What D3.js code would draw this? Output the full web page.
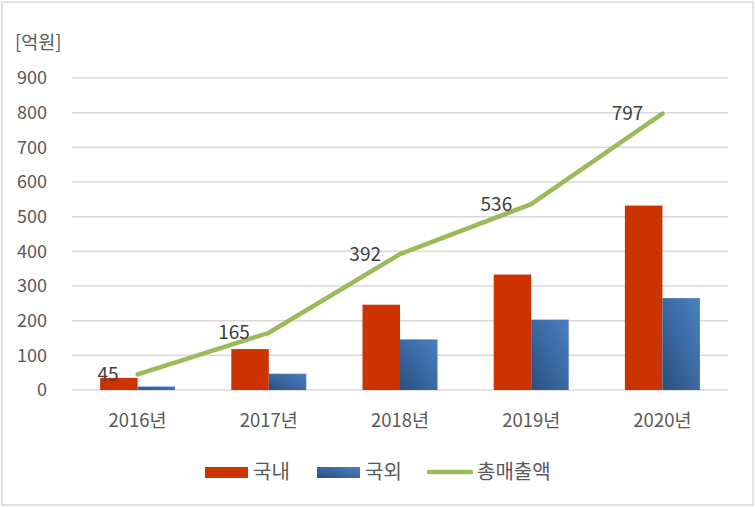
<!DOCTYPE html>
<html><head><meta charset="utf-8">
<script src="https://cdn.jsdelivr.net/npm/d3@7"></script>
<style>body{margin:0;background:#fff}svg{display:block}</style>
</head><body>
<script>
const categories = ["2016년","2017년","2018년","2019년","2020년"];
const domestic = [35, 118, 246, 333, 532];
const overseas = [10, 47, 146, 203, 265];
const totals = [45, 165, 392, 536, 797];
const yTicks = [0,100,200,300,400,500,600,700,800,900];
const seriesNames = ["국내","국외","총매출액"];

const W = 755, H = 507;
const svg = d3.select("body").append("svg").attr("width", W).attr("height", H);
const font = "'Noto Sans CJK KR','Noto Sans',sans-serif";

const defs = svg.append("defs");
const grad = defs.append("linearGradient").attr("id","blueGrad")
  .attr("x1","0%").attr("y1","100%").attr("x2","100%").attr("y2","0%");
grad.append("stop").attr("offset","0%").attr("stop-color","#2b4f7c");
grad.append("stop").attr("offset","55%").attr("stop-color","#3c6ba6");
grad.append("stop").attr("offset","100%").attr("stop-color","#4a80c4");

svg.append("rect").attr("x",2).attr("y",2).attr("width",751).attr("height",503)
  .attr("fill","#fff").attr("stroke","#d9d9d9").attr("stroke-width",1.5);

const x = d3.scaleBand().domain(categories).range([72, 728]).paddingInner(0).paddingOuter(0);
const y = d3.scaleLinear().domain([0, 900]).range([390, 78]);
const barW = 37.5;

svg.append("g").selectAll("line").data(yTicks).join("line")
  .attr("x1",72).attr("x2",728).attr("y1",d=>y(d)).attr("y2",d=>y(d))
  .attr("stroke","#d9d9d9").attr("stroke-width",1.5);

svg.append("g").selectAll("text").data(yTicks).join("text")
  .attr("x",47).attr("y",d=>y(d)).attr("dy","0.35em").attr("text-anchor","end")
  .attr("font-family",font).attr("font-size",18).attr("fill","#595959").text(d=>d);

svg.append("text").attr("x",15).attr("y",49).attr("font-family",font).attr("font-size",18.5)
  .attr("fill","#595959").text("[억원]");

svg.append("g").selectAll("text").data(categories).join("text")
  .attr("x",d=>x(d)+x.bandwidth()/2).attr("y",421).attr("dy","0.35em").attr("text-anchor","middle")
  .attr("font-family",font).attr("font-size",18.5).attr("fill","#595959").text(d=>d);

svg.append("g").selectAll("rect").data(categories).join("rect")
  .attr("x",d=>x(d)+x.bandwidth()/2-barW).attr("width",barW)
  .attr("y",(d,i)=>y(domestic[i])).attr("height",(d,i)=>y(0)-y(domestic[i]))
  .attr("fill","#cc3300");
svg.append("g").selectAll("rect").data(categories).join("rect")
  .attr("x",d=>x(d)+x.bandwidth()/2).attr("width",barW)
  .attr("y",(d,i)=>y(overseas[i])).attr("height",(d,i)=>y(0)-y(overseas[i]))
  .attr("fill","url(#blueGrad)");

const line = d3.line().x((d,i)=>x(categories[i])+x.bandwidth()/2).y(d=>y(d));
svg.append("path").datum(totals).attr("d",line).attr("fill","none")
  .attr("stroke","#9bbb59").attr("stroke-width",4.5).attr("stroke-linecap","round").attr("stroke-linejoin","round");

svg.append("g").selectAll("text").data(totals).join("text")
  .attr("x",(d,i)=>x(categories[i])+x.bandwidth()/2-19).attr("y",d=>y(d)).attr("dy","0.35em")
  .attr("text-anchor","end").attr("font-family",font).attr("font-size",19).attr("fill","#404040").text(d=>d);

const lg = svg.append("g").attr("font-family",font).attr("font-size",20).attr("fill","#595959");
lg.append("rect").attr("x",205).attr("y",467).attr("width",43).attr("height",11).attr("fill","#cc3300");
lg.append("text").attr("x",253).attr("y",472).attr("dy","0.35em").text(seriesNames[0]);
lg.append("rect").attr("x",317).attr("y",467).attr("width",43).attr("height",11).attr("fill","url(#blueGrad)");
lg.append("text").attr("x",365).attr("y",472).attr("dy","0.35em").text(seriesNames[1]);
lg.append("line").attr("x1",429).attr("x2",471).attr("y1",472).attr("y2",472)
  .attr("stroke","#9bbb59").attr("stroke-width",4.5).attr("stroke-linecap","round");
lg.append("text").attr("x",477).attr("y",472).attr("dy","0.35em").text(seriesNames[2]);
</script>
</body></html>
